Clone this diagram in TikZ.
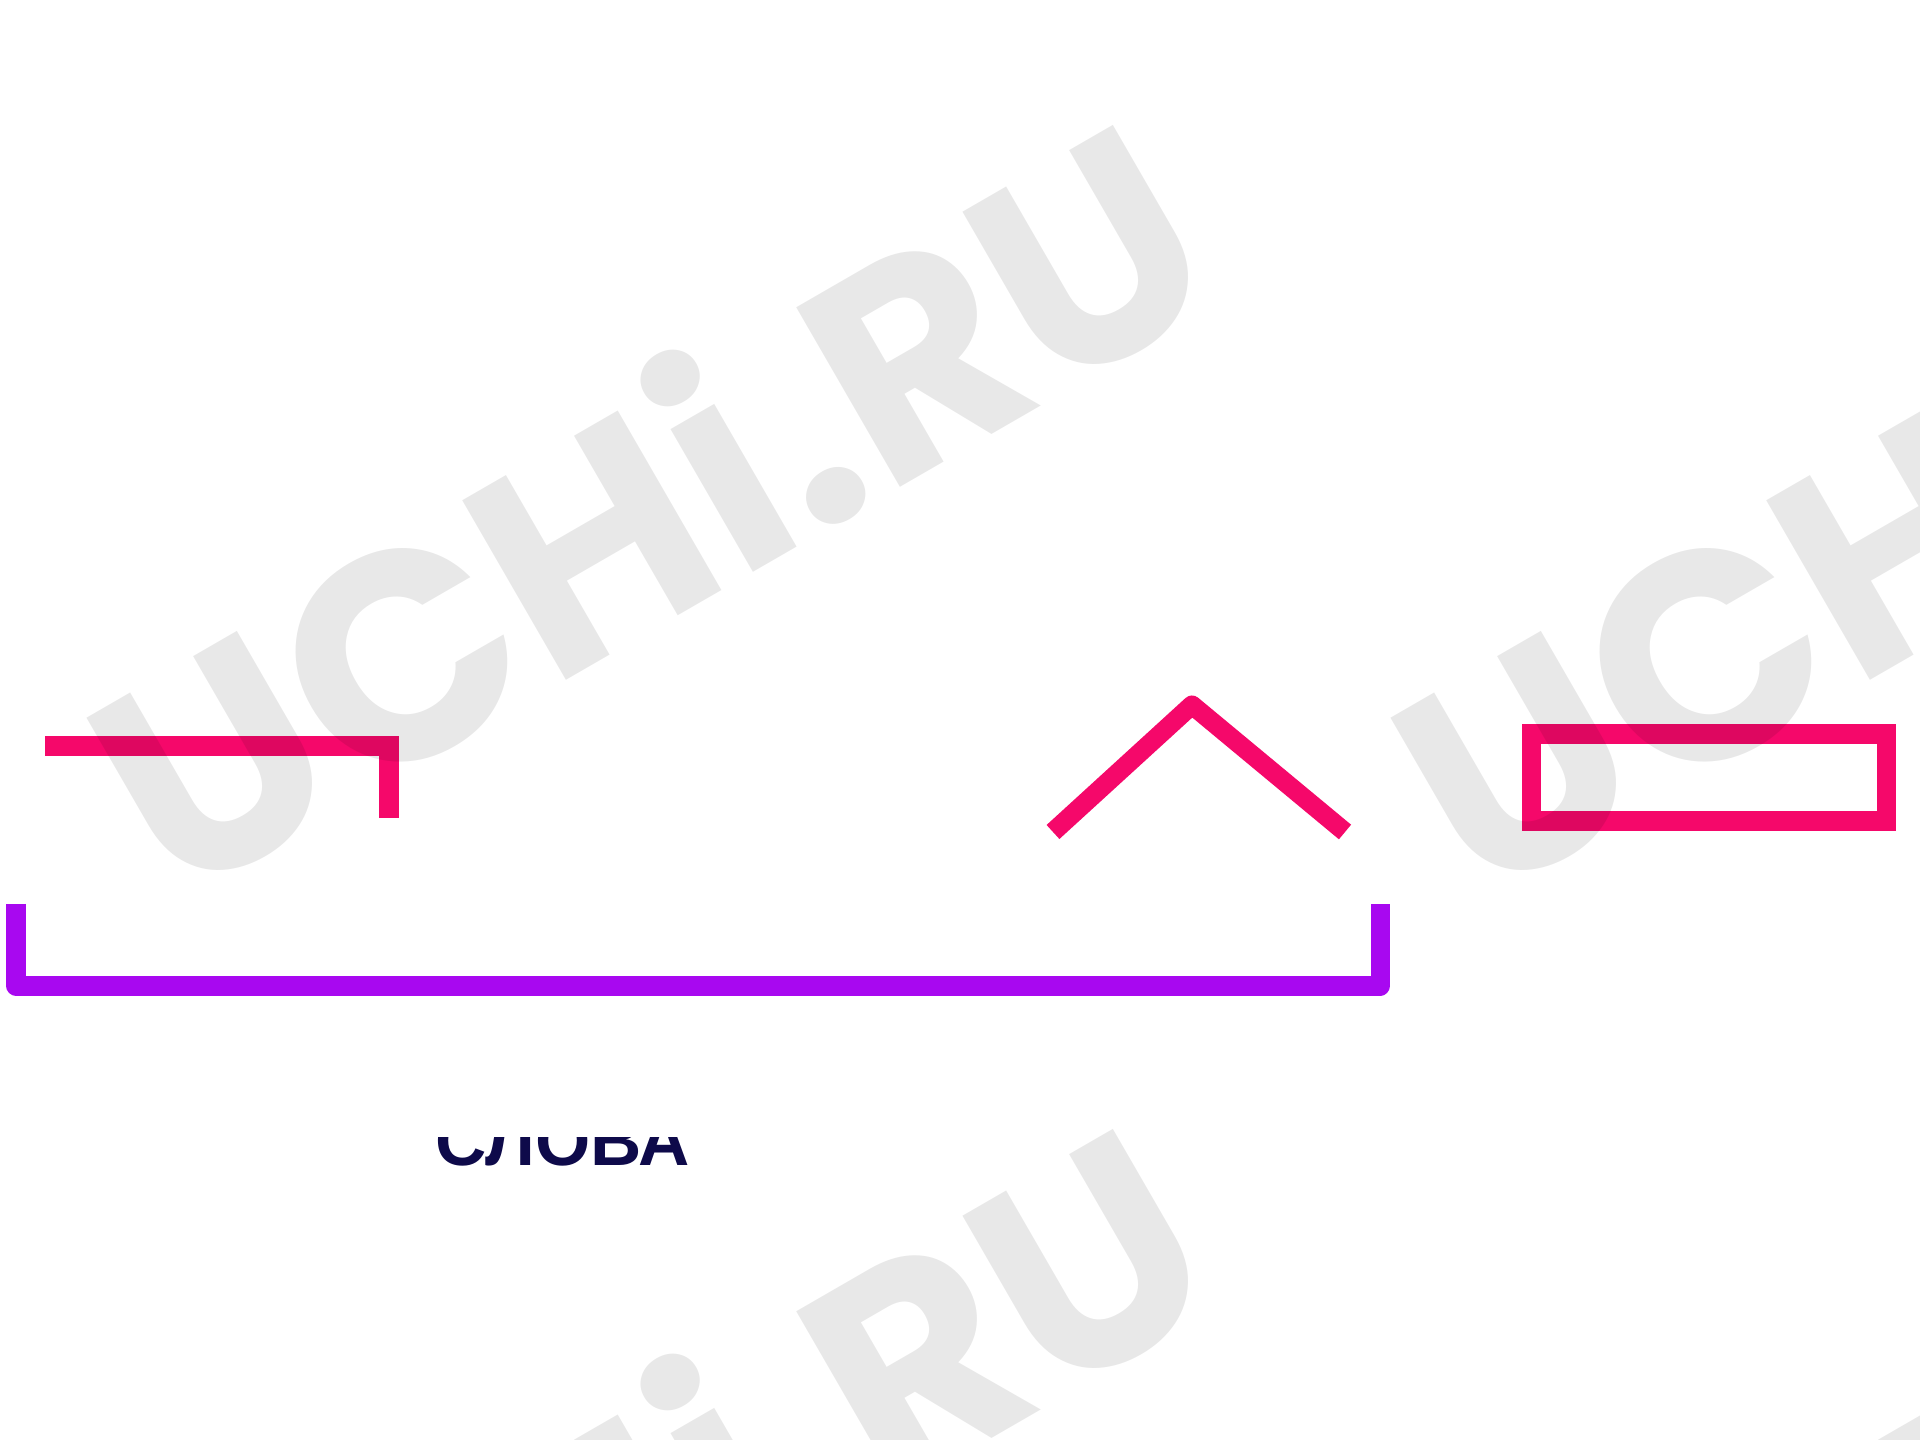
\documentclass[tikz,border=0pt]{standalone}
\usepackage{fontspec}
\setmainfont{Liberation Sans}
\newfontfamily\wmfont{Poppins}
\usepackage{tikz}
\usetikzlibrary{positioning}
\definecolor{morphpink}{RGB}{245,8,106}
\definecolor{osnovaviolet}{RGB}{168,8,240}
\definecolor{wordnavy}{RGB}{14,10,74}
\begin{document}
\begin{tikzpicture}[x=0.01cm,y=-0.01cm,
  morph/.style={color=morphpink,line width=0.19cm},
  osnova/.style={color=osnovaviolet,line width=0.19cm,line join=round},
  wmark/.style={font=\wmfont\bfseries\fontsize{84}{84}\selectfont,text=black,text opacity=0.09,rotate=30,inner sep=0}]
\useasboundingbox[fill=white] (0,0) rectangle (1920,1440);
\clip (0,0) rectangle (1920,1440);
\coordinate (pr1) at (45,746);\coordinate (pr2) at (389,746);\coordinate (pr3) at (389,818);
\draw[morph] (pr1)-- (pr2)-- (pr3);
\coordinate (su1) at (1053,832);\coordinate (su2) at (1192,705);\coordinate (su3) at (1345,832);
\draw[morph][line join=round] (su1)-- (su2)-- (su3);
\coordinate (ok1) at (1531,734);\coordinate (ok2) at (1886,821);
\draw[morph] (ok1) rectangle (ok2);
\coordinate (os1) at (16,904);\coordinate (os2) at (16,986);\coordinate (os3) at (1380,986);\coordinate (os4) at (1380,904);
\draw[osnova] (os1)-- (os2)-- (os3)-- (os4);
\begin{scope}
\clip (0,1138) rectangle (1920,1440);
\node[anchor=base west,inner sep=0,text=wordnavy,font=\bfseries\fontsize{20.2}{21}\selectfont] (slovo) at (435,1166) {СЛОВА};
\end{scope}
\foreach \dx/\dy [count=\n] in {0/0,1304/0,0/1004,1304/1004}
  \node[wmark] (wm\n) at (645+\dx,500+\dy) {UCHi.RU};
\end{tikzpicture}
\end{document}
